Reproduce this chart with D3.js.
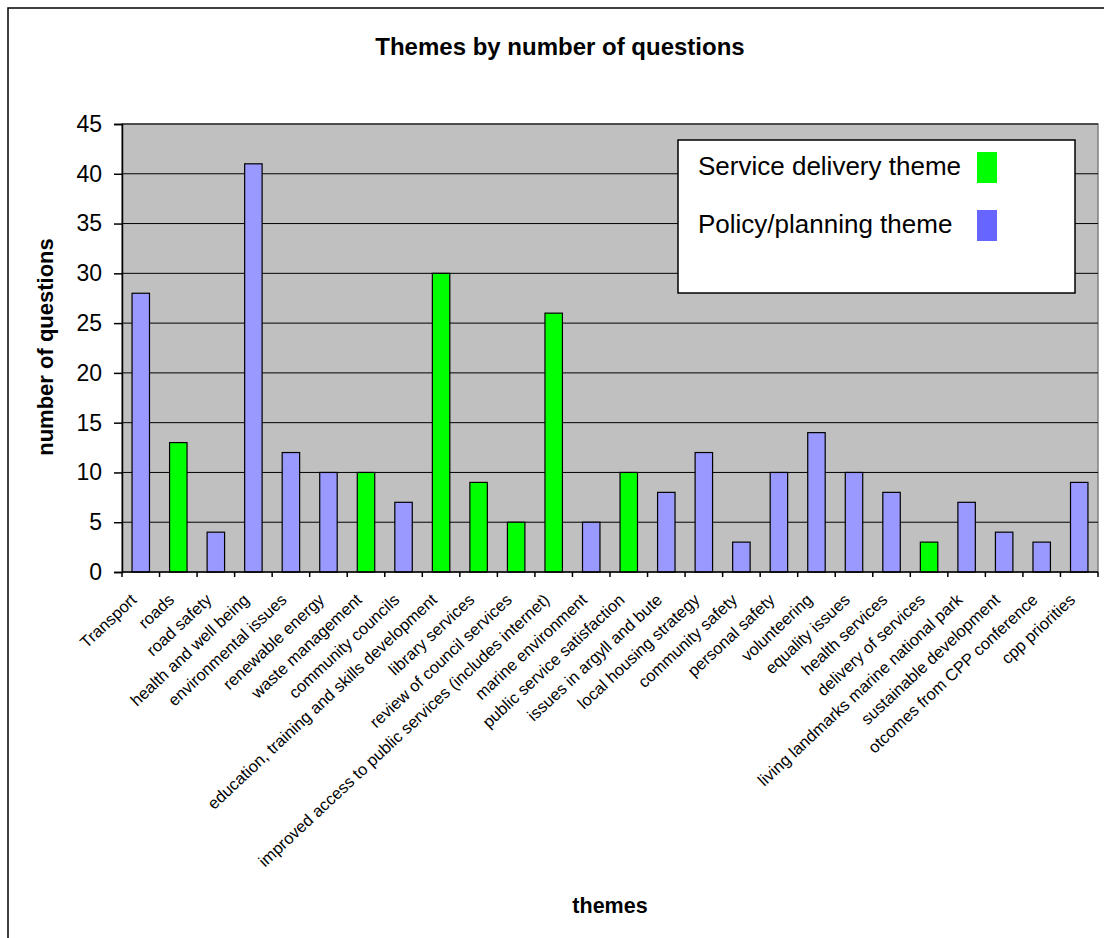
<!DOCTYPE html>
<html>
<head>
<meta charset="utf-8">
<script src="https://cdn.jsdelivr.net/npm/d3@7"></script>
<style>
  body { margin: 0; background: #fff; }
  text { font-family: "Liberation Sans", Arial, sans-serif; }
</style>
</head>
<body>
<div id="chart"></div>
<script>
// chart data
var themes = ["Transport", "roads", "road safety", "health and well being", "environmental issues",
  "renewable energy", "waste management", "community councils",
  "education, training and skills development", "library services", "review of council services",
  "improved access to public services (includes internet)", "marine environment",
  "public service satisfaction", "issues in argyll and bute", "local housing strategy",
  "community safety", "personal safety", "volunteering", "equality issues", "health services",
  "delivery of services", "living landmarks marine national park", "sustainable development",
  "otcomes from CPP conference", "cpp priorities"];
var questions = [28, 13, 4, 41, 12, 10, 10, 7, 30, 9, 5, 26, 5, 10, 8, 12, 3, 10, 14, 10, 8, 3, 7, 4, 3, 9];
// S = service delivery theme, P = policy/planning theme
var themeType = ["P", "S", "P", "P", "P", "P", "S", "P", "S", "S", "S", "S", "P", "S", "P", "P",
  "P", "P", "P", "P", "P", "S", "P", "P", "P", "P"];
var yTicks = [0, 5, 10, 15, 20, 25, 30, 35, 40, 45];
var legendLabels = ["Service delivery theme", "Policy/planning theme"];

var W = 1104, H = 938;
var plot = {left: 122, right: 1098, top: 124, bottom: 572};

var svg = d3.select("#chart")
  .append("svg")
    .attr("width", W)
    .attr("height", H);

// outer chart border (runs off the right and bottom)
svg.append("rect")
  .attr("x", 8).attr("y", 8)
  .attr("width", 1200).attr("height", 1000)
  .attr("fill", "#fff")
  .attr("stroke", "#000")
  .attr("stroke-width", 1.5);

// scales
var xCat = d3.scaleBand()
  .domain(themes)
  .range([plot.left, plot.right]);

var xBar = d3.scaleBand()
  .domain(themes)
  .range([plot.left, plot.right])
  .paddingInner(0.535)
  .paddingOuter(0.2675);

var y = d3.scaleLinear()
  .domain([0, 45])
  .range([plot.bottom, plot.top]);

// plot background
svg.append("rect")
  .attr("x", plot.left).attr("y", plot.top)
  .attr("width", plot.right - plot.left)
  .attr("height", plot.bottom - plot.top)
  .attr("fill", "#c0c0c0")
  .attr("stroke", "#808080")
  .attr("stroke-width", 1.5);

// gridlines
svg.append("g")
  .selectAll("line")
  .data(yTicks.filter(function (d) { return d > 0; }))
  .enter()
  .append("line")
    .attr("x1", plot.left)
    .attr("x2", plot.right)
    .attr("y1", function (d) { return y(d); })
    .attr("y2", function (d) { return y(d); })
    .attr("stroke", "#000")
    .attr("stroke-width", 1);

// bars
svg.append("g")
  .selectAll("rect")
  .data(themes)
  .enter()
  .append("rect")
    .attr("x", function (d) { return xBar(d); })
    .attr("width", xBar.bandwidth())
    .attr("y", function (d, i) { return y(questions[i]); })
    .attr("height", function (d, i) { return y(0) - y(questions[i]); })
    .attr("fill", function (d, i) { return themeType[i] == "S" ? "#00ff00" : "#9999ff"; })
    .attr("stroke", "#000")
    .attr("stroke-width", 1.2);

// Y axis
var yAxis = svg.append("g")
  .attr("transform", "translate(" + plot.left + ",0)")
  .call(d3.axisLeft(y).tickValues(yTicks).tickSize(8).tickPadding(12));
yAxis.select(".domain").attr("stroke", "#000").attr("stroke-width", 1.5);
yAxis.selectAll(".tick line").attr("stroke", "#000").attr("stroke-width", 1.5);
yAxis.selectAll("text")
  .attr("font-family", "Liberation Sans, Arial, sans-serif")
  .attr("font-size", 23)
  .attr("fill", "#000");

// X axis line and ticks at category boundaries
svg.append("line")
  .attr("x1", plot.left).attr("x2", plot.right)
  .attr("y1", plot.bottom).attr("y2", plot.bottom)
  .attr("stroke", "#000").attr("stroke-width", 1.5);

svg.append("g")
  .selectAll("line")
  .data(themes.concat(["end"]))
  .enter()
  .append("line")
    .attr("x1", function (d, i) { return plot.left + i * xCat.step(); })
    .attr("x2", function (d, i) { return plot.left + i * xCat.step(); })
    .attr("y1", plot.bottom)
    .attr("y2", plot.bottom + 5)
    .attr("stroke", "#000")
    .attr("stroke-width", 1.5);

// category labels, rotated
svg.append("g")
  .selectAll("text")
  .data(themes)
  .enter()
  .append("text")
    .attr("transform", function (d) {
      var cx = xCat(d) + xCat.bandwidth() / 2 - 7;
      return "translate(" + cx + "," + (plot.bottom + 25) + ") rotate(-43)";
    })
    .attr("text-anchor", "end")
    .attr("dy", "0.35em")
    .attr("font-size", 16.5)
    .attr("fill", "#000")
    .text(function (d) { return d; });

// title
svg.append("text")
  .attr("x", 560).attr("y", 55)
  .attr("text-anchor", "middle")
  .attr("font-size", 24)
  .attr("font-weight", "bold")
  .text("Themes by number of questions");

// axis titles
svg.append("text")
  .attr("transform", "translate(53,347) rotate(-90)")
  .attr("text-anchor", "middle")
  .attr("font-size", 22)
  .attr("font-weight", "bold")
  .text("number of questions");

svg.append("text")
  .attr("x", 610).attr("y", 913)
  .attr("text-anchor", "middle")
  .attr("font-size", 21.5)
  .attr("font-weight", "bold")
  .text("themes");

// legend
var legend = svg.append("g");
legend.append("rect")
  .attr("x", 678).attr("y", 140)
  .attr("width", 397).attr("height", 153)
  .attr("fill", "#fff")
  .attr("stroke", "#000")
  .attr("stroke-width", 1.5);

var legendColors = ["#00ff00", "#6666ff"];
legend.selectAll(".lt")
  .data(legendLabels)
  .enter()
  .append("text")
    .attr("class", "lt")
    .attr("x", 698)
    .attr("y", function (d, i) { return 175 + i * 58; })
    .attr("font-size", 26)
    .attr("fill", "#000")
    .text(function (d) { return d; });

legend.selectAll(".ls")
  .data(legendLabels)
  .enter()
  .append("rect")
    .attr("class", "ls")
    .attr("x", 977)
    .attr("y", function (d, i) { return 152 + i * 58; })
    .attr("width", 20)
    .attr("height", 31)
    .attr("fill", function (d, i) { return legendColors[i]; });
</script>
</body>
</html>
